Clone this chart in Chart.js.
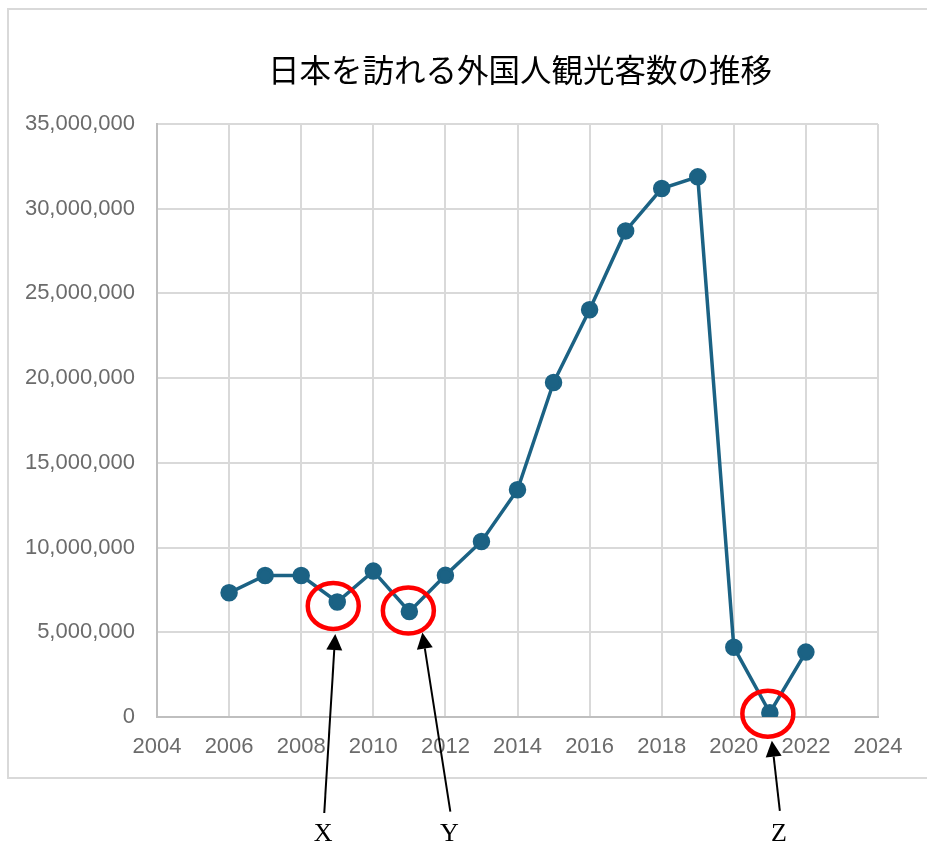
<!DOCTYPE html>
<html>
<head>
<meta charset="utf-8">
<script src="https://cdn.jsdelivr.net/npm/chart.js@4/dist/chart.umd.min.js"></script>
<style>
  html, body { margin: 0; padding: 0; background: #fff; }
  #wrap { width: 927px; height: 842px; }
</style>
</head>
<body>
<div id="wrap"><canvas id="chart" width="927" height="842"></canvas></div>
<script>
// Data
const years = [2006, 2007, 2008, 2009, 2010, 2011, 2012, 2013, 2014, 2015, 2016, 2017, 2018, 2019, 2020, 2021, 2022];
const visitors = [7330000, 8350000, 8350000, 6790000, 8610000, 6220000, 8360000, 10360000, 13410000, 19740000, 24040000, 28690000, 31190000, 31880000, 4120000, 250000, 3830000];
const titleText = "日本を訪れる外国人観光客数の推移";

// Marked points and their labels
const marks = [
  { year: 2009, label: "X", dx: -4, dy: 4, tail: [-13, 211], tip: [-2, 32] },
  { year: 2011, label: "Y", dx: -1, dy: -1, tail: [41, 200], tip: [13, 21] },
  { year: 2021, label: "Z", dx: -2, dy: 1, tail: [10, 98], tip: [2, 28] }
];

const LINE = "#1b6284";
const TICK_FONT = { family: '"Liberation Sans", Arial, sans-serif', size: 22 };

// Frame, title and annotations
const overlay = {
  id: "overlay",
  beforeDraw(chart) {
    const ctx = chart.ctx;
    ctx.save();
    ctx.fillStyle = "#fff";
    ctx.fillRect(0, 0, chart.width, chart.height);
    ctx.strokeStyle = "#d9d9d9";
    ctx.lineWidth = 2;
    ctx.beginPath();
    ctx.moveTo(chart.width + 2, 9);
    ctx.lineTo(8, 9);
    ctx.lineTo(8, 778);
    ctx.lineTo(chart.width + 2, 778);
    ctx.stroke();
    ctx.restore();
  },
  afterDraw(chart) {
    const ctx = chart.ctx;
    const xs = chart.scales.x, ys = chart.scales.y;
    ctx.save();
    ctx.fillStyle = "#000";
    ctx.font = '31.5px "Noto Sans CJK JP", "Noto Sans", sans-serif';
    ctx.textAlign = "center";
    ctx.textBaseline = "middle";
    ctx.fillText(titleText, 520, 70);

    marks.forEach(m => {
      const i = years.indexOf(m.year);
      const px = xs.getPixelForValue(m.year);
      const py = ys.getPixelForValue(visitors[i]);
      const cx = px + m.dx, cy = py + m.dy;
      ctx.strokeStyle = "#ff0000";
      ctx.lineWidth = 4.5;
      ctx.beginPath();
      ctx.ellipse(cx, cy, 25.5, 23, 0, 0, Math.PI * 2);
      ctx.stroke();

      const tx = px + m.tip[0], ty = py + m.tip[1];
      const sx = px + m.tail[0], sy = py + m.tail[1];
      const ang = Math.atan2(ty - sy, tx - sx);
      const head = 16, half = 8;
      const bx = tx - head * Math.cos(ang), by = ty - head * Math.sin(ang);
      ctx.strokeStyle = "#000";
      ctx.lineWidth = 2;
      ctx.beginPath();
      ctx.moveTo(sx, sy);
      ctx.lineTo(bx, by);
      ctx.stroke();
      ctx.fillStyle = "#000";
      ctx.beginPath();
      ctx.moveTo(tx, ty);
      ctx.lineTo(bx + half * Math.sin(ang), by - half * Math.cos(ang));
      ctx.lineTo(bx - half * Math.sin(ang), by + half * Math.cos(ang));
      ctx.closePath();
      ctx.fill();

      ctx.font = '26px "Liberation Serif", "DejaVu Serif", serif';
      ctx.textAlign = "center";
      ctx.textBaseline = "alphabetic";
      ctx.fillText(m.label, sx - 1, 841);
    });
    ctx.restore();
  }
};

new Chart(document.getElementById("chart"), {
  type: "line",
  data: {
    datasets: [{
      data: years.map((y, i) => ({ x: y, y: visitors[i] })),
      borderColor: LINE,
      backgroundColor: LINE,
      borderWidth: 3.5,
      pointRadius: 7,
      pointHoverRadius: 7,
      pointBackgroundColor: LINE,
      pointBorderColor: LINE,
      tension: 0
    }]
  },
  options: {
    responsive: false,
    animation: false,
    layout: { padding: { left: 10, right: 49, top: 124, bottom: 85 } },
    plugins: {
      legend: { display: false },
      title: { display: false },
      tooltip: { enabled: false }
    },
    scales: {
      x: {
        type: "linear",
        min: 2004,
        max: 2024,
        ticks: {
          stepSize: 2,
          padding: 17,
          color: "#6b6b6b",
          font: TICK_FONT,
          callback: v => String(v)
        },
        grid: { color: "#d9d9d9", lineWidth: 2, drawTicks: false },
        border: { color: "#bfbfbf", width: 2 },
        afterFit: s => { s.height = 40; }
      },
      y: {
        min: 0,
        max: 35000000,
        ticks: {
          stepSize: 5000000,
          padding: 22,
          color: "#6b6b6b",
          font: TICK_FONT,
          callback: v => v.toLocaleString("en-US")
        },
        grid: { color: "#d9d9d9", lineWidth: 2, drawTicks: false },
        border: { color: "#bfbfbf", width: 2 },
        afterFit: s => { s.width = 147; }
      }
    }
  },
  plugins: [overlay]
});
</script>
</body>
</html>
